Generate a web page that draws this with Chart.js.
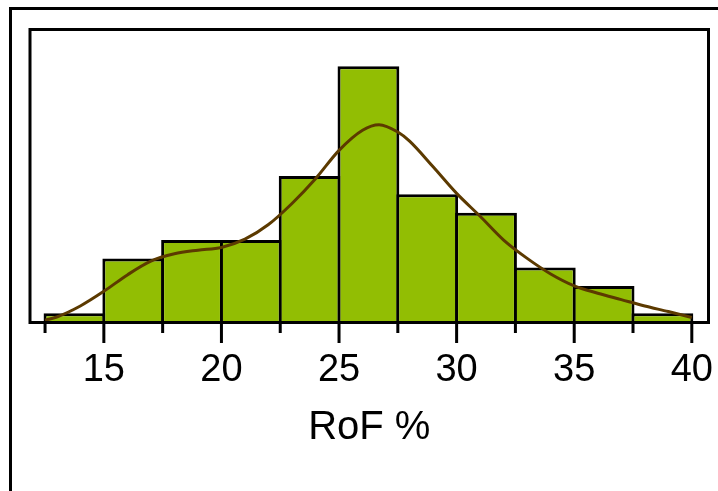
<!DOCTYPE html>
<html>
<head>
<meta charset="utf-8">
<title>RoF % histogram</title>
<script src="https://cdn.jsdelivr.net/npm/chart.js@4.4.1/dist/chart.umd.min.js"></script>
<style>
  html, body { margin: 0; padding: 0; background: #fff; }
  #wrap { position: relative; width: 718px; height: 491px; overflow: hidden; }
  #frame {
    position: absolute; left: 9px; top: 7px; width: 800px; height: 600px;
    border-left: 3px solid #000; border-top: 3px solid #000;
  }
  #chart { position: absolute; left: 0; top: 0; }
</style>
</head>
<body>
<div id="wrap">
  <div id="frame"></div>
  <canvas id="chart" width="718" height="491"></canvas>
</div>
<script>
// histogram bins (centre of each 2.5-wide bin) and counts
const binCenters = [13.75, 16.25, 18.75, 21.25, 23.75, 26.25, 28.75, 31.25, 33.75, 36.25, 38.75];
const binCounts  = [1, 7, 9, 9, 16, 28, 14, 12, 6, 4, 1];

// smoothed density curve (in count units)
const curveX = [12.5, 13, 14, 15, 16, 17, 18, 19, 20, 21, 22, 23, 24, 25, 26, 26.7, 27.5, 28, 29, 30, 31, 32, 33, 34, 35, 36, 37, 38, 39, 40];
const curveY = [0.25, 0.6, 1.8, 3.4, 5.2, 6.7, 7.5, 7.9, 8.2, 9.1, 10.7, 13.0, 15.7, 18.8, 21.0, 21.6, 20.8, 19.8, 17.0, 14.1, 11.6, 9.0, 7.0, 5.3, 4.0, 3.2, 2.5, 1.8, 1.2, 0.55];

// x axis ticks (labels only on multiples of 5)
const tickValues = [12.5, 15, 17.5, 20, 22.5, 25, 27.5, 30, 32.5, 35, 37.5, 40];

const barColor   = '#92be03';
const curveColor = '#5c3a00';

// plot frame drawn around the chart area
const plotFrame = {
  id: 'plotFrame',
  afterDatasetsDraw(chart) {
    const { ctx, chartArea: a } = chart;
    ctx.save();
    ctx.strokeStyle = '#000';
    ctx.lineWidth = 3;
    ctx.strokeRect(a.left, a.top, a.right - a.left, a.bottom - a.top);
    ctx.restore();
  }
};

// long ticks on the labelled values, short ones in between
const tickMarks = {
  id: 'tickMarks',
  afterDraw(chart) {
    const { ctx, chartArea: a } = chart;
    const xs = chart.scales.x;
    ctx.save();
    ctx.strokeStyle = '#000';
    ctx.lineWidth = 3;
    ctx.lineCap = 'butt';
    xs.ticks.forEach(t => {
      const px = xs.getPixelForValue(t.value);
      const len = t.value % 5 === 0 ? 20.5 : 10.5;
      ctx.beginPath();
      ctx.moveTo(px, a.bottom);
      ctx.lineTo(px, a.bottom + len);
      ctx.stroke();
    });
    ctx.restore();
  }
};

new Chart(document.getElementById('chart'), {
  data: {
    datasets: [
      {
        type: 'line',
        order: 0,
        data: curveX.map((x, i) => ({ x, y: curveY[i] })),
        borderColor: curveColor,
        borderWidth: 3,
        pointRadius: 0,
        cubicInterpolationMode: 'monotone',
        fill: false
      },
      {
        type: 'bar',
        order: 1,
        data: binCenters.map((x, i) => ({ x, y: binCounts[i] })),
        backgroundColor: barColor,
        borderColor: '#000',
        borderWidth: 3,
        borderSkipped: 'bottom',
        barPercentage: 1.051,
        categoryPercentage: 1
      }
    ]
  },
  options: {
    responsive: false,
    animation: false,
    devicePixelRatio: 1,
    layout: { padding: { left: 30, right: 9.5, top: 29.5, bottom: 0 } },
    plugins: {
      legend: { display: false },
      tooltip: { enabled: false }
    },
    scales: {
      x: {
        type: 'linear',
        position: 'bottom',
        offset: false,
        min: 11.86,
        max: 40.71,
        grid: { display: false, drawTicks: false, offset: false },
        border: { display: false },
        afterBuildTicks: s => { s.ticks = tickValues.map(v => ({ value: v })); },
        afterFit: s => { s.height = 168.5; s.paddingLeft = 0; s.paddingRight = 0; },
        ticks: {
          autoSkip: false,
          maxRotation: 0,
          padding: 25,
          color: '#000',
          font: { family: '"Liberation Sans", Arial, sans-serif', size: 38 },
          callback: v => (v % 5 === 0 ? String(v) : '')
        },
        title: {
          display: true,
          text: 'RoF %',
          color: '#000',
          font: { family: '"Liberation Sans", Arial, sans-serif', size: 40 },
          padding: { top: 10.9, bottom: 39 }
        }
      },
      y: {
        display: false,
        min: 0,
        max: 32
      }
    }
  },
  plugins: [plotFrame, tickMarks]
});
</script>
</body>
</html>
